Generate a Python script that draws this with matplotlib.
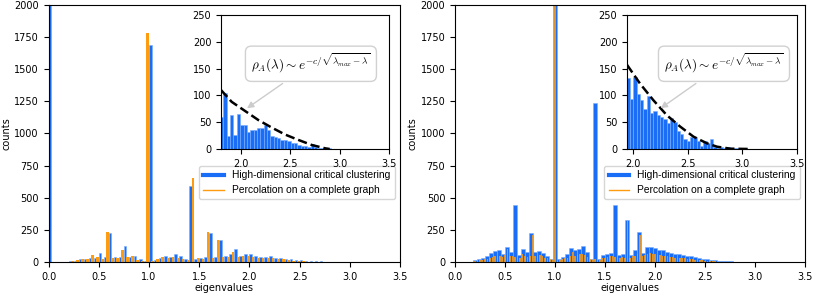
import numpy as np
import matplotlib.pyplot as plt
from matplotlib.lines import Line2D

plt.rcParams['mathtext.fontset'] = 'cm'
plt.rcParams['font.size'] = 7
BLUE = '#1a6df7'
EDGE = '#7aaeff'
ORANGE = '#ff9b0f'

# left panel, main histogram: bins 0.05 wide, centres 0.00 .. 2.75
left_step = 0.05
left_blue = [2600, 0, 0, 0, 5, 8, 20, 25, 35, 35,
             70, 40, 225, 40, 40, 125, 40, 50, 20, 10,
             1690, 15, 30, 45, 40, 65, 50, 25, 590, 20,
             35, 40, 225, 40, 175, 50, 60, 100, 50, 60,
             65, 45, 40, 40, 45, 35, 30, 25, 20, 15,
             12, 8, 6, 5, 10, 2]
left_orange = [2500, 0, 0, 0, 2, 5, 15, 20, 20, 55,
               40, 25, 233, 30, 35, 95, 40, 45, 15, 8,
               1780, 10, 25, 40, 30, 40, 30, 20, 15, 650,
               30, 25, 230, 30, 170, 40, 40, 80, 40, 45,
               45, 40, 35, 35, 35, 30, 25, 20, 15, 10,
               8, 5, 3, 2, 0, 0]

# right panel, main histogram
right_blue_start = 0.14
right_blue_step = 0.04
right_blue = [3, 15, 25, 30, 45, 70, 85, 90, 65, 120,
              80, 445, 55, 100, 75, 225, 80, 85, 70, 45,
              25, 2600, 20, 40, 60, 110, 95, 100, 125, 80,
              25, 1240, 25, 55, 65, 70, 440, 55, 60, 325,
              55, 90, 230, 70, 120, 115, 110, 95, 90, 80,
              70, 60, 65, 55, 50, 45, 40, 30, 25, 20,
              15, 12, 8, 5, 6, 4, 2]
right_orange_start = 0.15
right_orange_step = 0.025
right_orange = [0, 3, 8, 12, 15, 18, 20, 25, 35, 40,
                45, 50, 45, 40, 55, 100, 50, 45, 40, 395,
                35, 60, 45, 40, 50, 210, 45, 50, 55, 45,
                35, 30, 20, 15, 2600, 10, 15, 20, 30, 35,
                45, 80, 50, 55, 60, 65, 55, 40, 20, 15,
                20, 1150, 15, 30, 35, 40, 45, 50, 40, 390,
                35, 40, 35, 330, 35, 45, 50, 60, 210, 45,
                55, 65, 70, 65, 60, 55, 55, 50, 45, 45,
                40, 40, 35, 35, 30, 30, 28, 25, 22, 20,
                18, 15, 13, 12, 10, 8, 7, 5, 4, 3,
                2, 2, 1, 1, 0]

# insets (tail of the blue spectrum)
left_inset_start = 1.79
left_inset_step = 0.034
left_inset = [60, 105, 25, 64, 27, 66, 44, 44, 31, 36,
              35, 39, 40, 45, 35, 25, 22, 20, 16, 17,
              14, 11, 12, 8, 6, 5, 4, 9, 4, 2, 1, 1, 1]
left_fit_x = [1.8, 1.908, 2.043, 2.178, 2.313, 2.448, 2.582, 2.718, 2.853, 2.9]
left_fit_y = [110, 88, 71, 54, 40, 27, 17, 7.5, 1.3, 0]

right_inset_start = 1.94
right_inset_step = 0.0306
right_inset = [132, 94, 134, 102, 92, 74, 98, 68, 70, 64,
               60, 56, 48, 58, 50, 33, 28, 19, 14, 22,
               22, 14, 6, 14, 11, 19, 4, 2, 3, 2,
               3, 1, 1, 1]
right_fit_x = [1.945, 2.064, 2.186, 2.309, 2.43, 2.553, 2.676, 2.768, 2.89, 3.07]
right_fit_y = [157, 122, 91, 63, 42, 23, 10.6, 4.3, 0.6, 0]

formula = r'$\rho_A(\lambda) \sim e^{-c/\sqrt{\lambda_{max}-\lambda}}$'
labels = ['High-dimensional critical clustering', 'Percolation on a complete graph']


def setup_main(ax):
    ax.set_xlim(0, 3.5)
    ax.set_ylim(0, 2000)
    ax.set_xticks(np.arange(0, 3.51, 0.5))
    ax.set_yticks(np.arange(0, 2001, 250))
    ax.set_xlabel('eigenvalues', labelpad=1)
    ax.set_ylabel('counts', labelpad=2)
    handles = [Line2D([], [], color=BLUE, lw=3), Line2D([], [], color=ORANGE, lw=1)]
    ax.legend(handles, labels, loc='upper right', bbox_to_anchor=(0.985, 0.373),
              borderaxespad=0, prop={'family': 'Liberation Sans', 'size': 7.4})


def draw_inset(ins, start, step, vals, fx, fy, xlo, xy, xytext):
    edges = start + step * np.arange(len(vals))
    ins.bar(edges, vals, width=step, align='edge', color=BLUE, edgecolor=EDGE, lw=0.4)
    ins.plot(fx, fy, 'k--', lw=1.8)
    ins.set_xlim(xlo, 3.5)
    ins.set_ylim(0, 250)
    ins.set_xticks([2.0, 2.5, 3.0, 3.5])
    ins.set_yticks(np.arange(0, 251, 50))
    ins.annotate(formula, xy=xy, xytext=xytext, ha='center', va='center', fontsize=9.5,
                 bbox=dict(boxstyle='round,pad=0.45', fc='w', ec='0.82'),
                 arrowprops=dict(arrowstyle='-|>', color='0.8', lw=1))


fig = plt.figure(figsize=(8.14, 2.94), dpi=100)

ax1 = fig.add_axes([0.0596, 0.1088, 0.4318, 0.875])
c = left_step * np.arange(len(left_blue))
ax1.bar(c, left_blue, width=0.026, align='edge', color=BLUE, edgecolor=EDGE, lw=0.4)
ax1.bar(c, left_orange, width=-0.025, align='edge', color=ORANGE, lw=0)
setup_main(ax1)

ax2 = fig.add_axes([0.559, 0.1088, 0.43, 0.875])
e = right_blue_start + right_blue_step * np.arange(len(right_blue))
ax2.bar(e, right_blue, width=right_blue_step, align='edge', color=BLUE, edgecolor=EDGE, lw=0.4)
c = right_orange_start + right_orange_step * np.arange(len(right_orange))
ax2.bar(c, right_orange, width=0.015, color=ORANGE, alpha=0.85, lw=0)
setup_main(ax2)

ins1 = fig.add_axes([0.2715, 0.4932, 0.2064, 0.4558])
draw_inset(ins1, left_inset_start, left_inset_step, left_inset, left_fit_x, left_fit_y,
           1.8, (2.04, 73), (2.71, 159))

ins2 = fig.add_axes([0.7703, 0.4932, 0.2088, 0.4558])
draw_inset(ins2, right_inset_start, right_inset_step, right_inset, right_fit_x, right_fit_y,
           1.945, (2.232, 73), (2.832, 159))

fig.savefig('out.png', dpi=100)
